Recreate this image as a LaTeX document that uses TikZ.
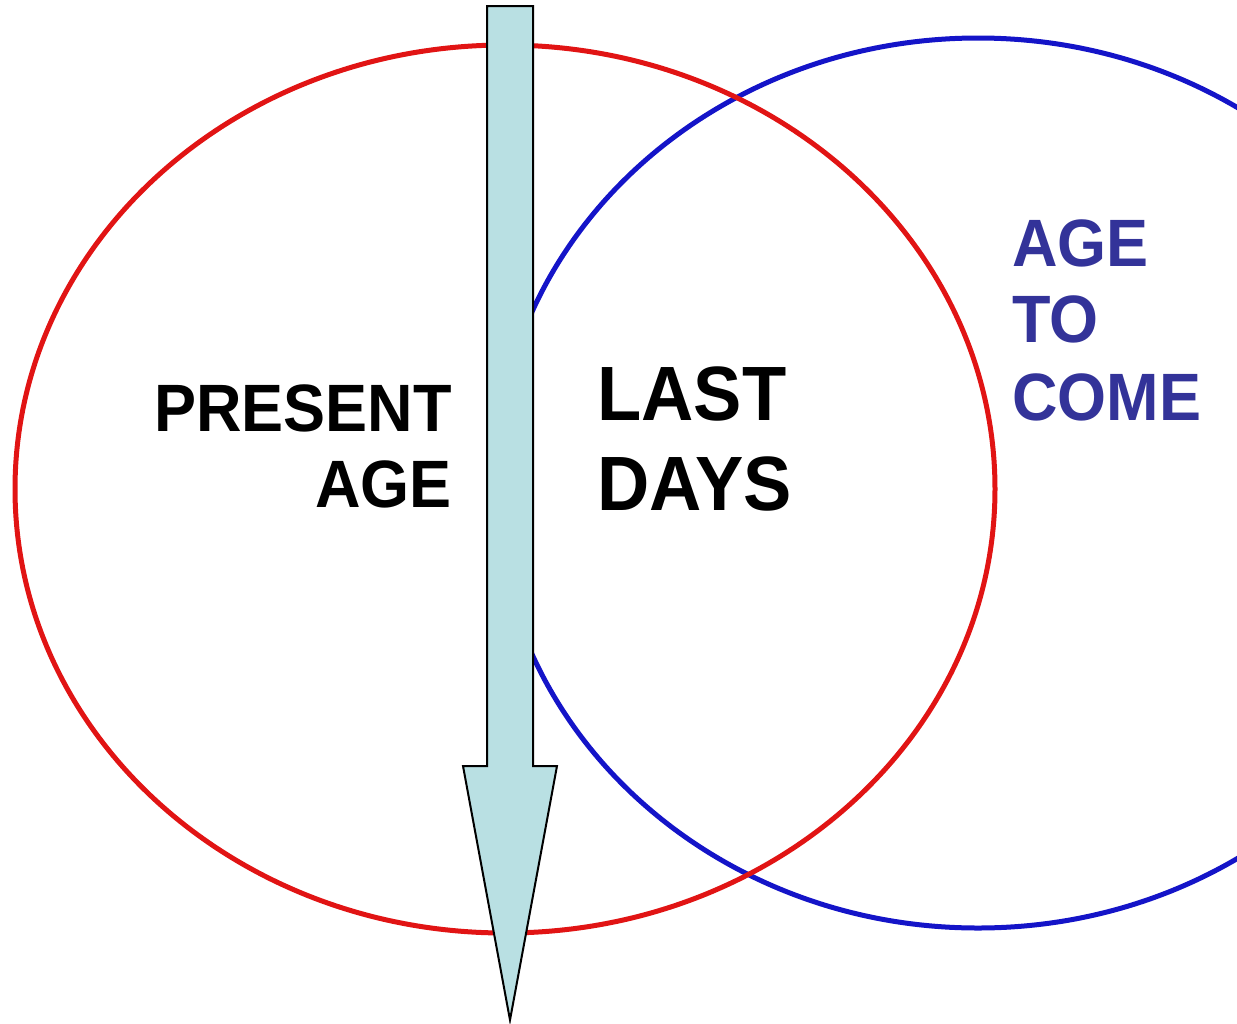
\documentclass[tikz,border=0pt]{standalone}
\usepackage{fontspec}
\setmainfont{Liberation Sans}
\definecolor{ringred}{RGB}{225,20,20}
\definecolor{ringblue}{RGB}{20,20,200}
\definecolor{txtblue}{RGB}{51,51,153}
\definecolor{arrowfill}{RGB}{185,224,227}
\begin{document}
\begin{tikzpicture}[x=0.5pt,y=-0.5pt,
  ring/.style={line width=2.5pt},
  lbl/.style={inner sep=0pt,font=\bfseries,xscale=0.94,transform shape},
  bigarrow/.style={draw=black,line width=1pt,fill=arrowfill,line join=miter}]
\useasboundingbox (0,0) rectangle (1237,1023);
\draw[ring,ringblue] (978,483) ellipse [x radius=483,y radius=445];
\draw[ring,ringred] (505,489) ellipse [x radius=490,y radius=444];
\path[bigarrow] (487,6) -- (533,6) -- (533,766) -- (557,766) -- (510,1020) -- (463,766) -- (487,766) -- cycle;
\node[lbl,anchor=base east] (p1) at (452,431) {\fontsize{33.5pt}{38pt}\selectfont PRESENT};
\node[lbl,anchor=base east] (p2) at (452,507) {\fontsize{33.5pt}{38pt}\selectfont AGE};
\node[lbl,anchor=base west] (l1) at (597,420) {\fontsize{38.5pt}{44pt}\selectfont LAST};
\node[lbl,anchor=base west] (l2) at (597,510) {\fontsize{38.5pt}{44pt}\selectfont DAYS};
\node[lbl,anchor=base west,text=txtblue] (a1) at (1012,266) {\fontsize{33.5pt}{38pt}\selectfont AGE};
\node[lbl,anchor=base west,text=txtblue] (a2) at (1012,342) {\fontsize{33.5pt}{38pt}\selectfont TO};
\node[lbl,anchor=base west,text=txtblue] (a3) at (1012,420) {\fontsize{33.5pt}{38pt}\selectfont COME};
\end{tikzpicture}
\end{document}
